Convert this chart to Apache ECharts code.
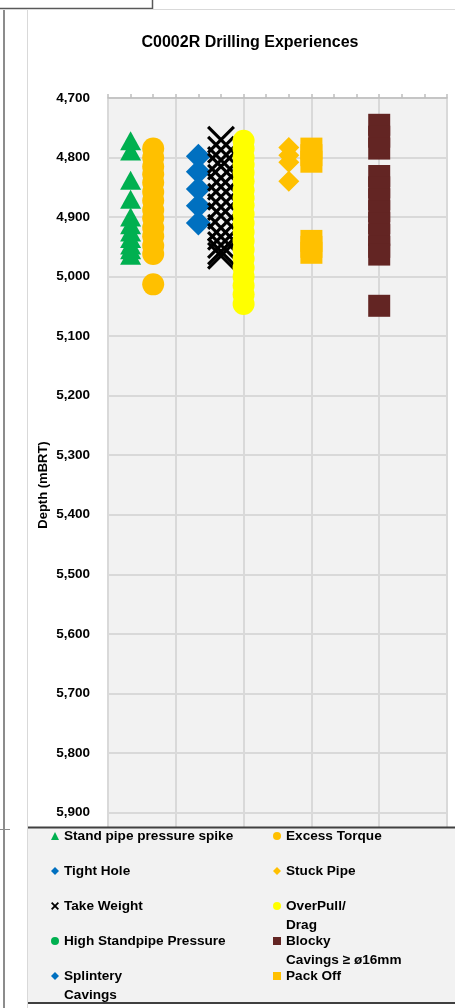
<!DOCTYPE html>
<html>
<head>
<meta charset="utf-8">
<script src="https://cdn.jsdelivr.net/npm/echarts@6/dist/echarts.min.js"></script>
<style>
  html, body { margin: 0; padding: 0; background: #ffffff; }
  #chart { width: 455px; height: 1008px; }
</style>
</head>
<body>
<div id="chart"></div>
<script>
// ---- Data (depths in mBRT) ----
const seriesNames = [
  'Stand pipe pressure spike', 'Excess Torque', 'Tight Hole', 'Stuck Pipe',
  'Take Weight', 'OverPull/\nDrag', 'High Standpipe Pressure',
  'Blocky\nCavings ≥ ø16mm', 'Splintery\nCavings', 'Pack Off'
];
// horizontal slot (x value) of each series
const seriesSlots = [1, 2, 4, 8, 5, 6, 3, 12, 4, 9];

const standPipeSpike = [4772, 4789, 4838, 4870, 4900, 4913, 4925, 4936, 4947, 4955, 4964];
const excessTorque = [4785, 4800, 4815, 4828, 4842, 4858, 4872, 4888, 4902, 4918, 4932, 4948, 4962, 5013];
const tightHole = [4798, 4824, 4853, 4881, 4910];
const stuckPipe = [4783, 4796, 4808, 4840];
const takeWeight = [4770, 4787, 4804, 4815, 4834, 4849, 4866, 4883, 4898, 4918, 4933, 4947, 4958, 4965];
const overPullDrag = [4772, 4785, 4800, 4812, 4825, 4840, 4855, 4868, 4880, 4895, 4910, 4925, 4940, 4955, 4970, 4985, 5000, 5015, 5030, 5046];
const highStandpipePressure = [];
const blockyCavings = [4745, 4765, 4785, 4831, 4850, 4870, 4890, 4910, 4930, 4950, 4963, 5049];
const splinteryCavings = [];
const packOff = [4785, 4796, 4807, 4940, 4950, 4960];

const depthAxis = [4700, 6000, 100]; // min, max, step
const slotAxis = [0, 15, 3];         // min, max, step

const seriesDepths = [standPipeSpike, excessTorque, tightHole, stuckPipe, takeWeight,
  overPullDrag, highStandpipePressure, blockyCavings, splinteryCavings, packOff];

// ---- Styles ----
const FONT = "'Liberation Sans', Arial, sans-serif";
const crossPath = 'path://M0,8L8,0L100,92L92,100ZM92,0L100,8L8,100L0,92Z';
const crossIcon = 'path://M0,16L16,0L100,84L84,100ZM84,0L100,16L16,100L0,84Z';
const styles = [
  { symbol: 'triangle', size: [21, 19], color: '#00b050' },
  { symbol: 'circle', size: 22, color: '#ffc000' },
  { symbol: 'diamond', size: 25, color: '#0070c0' },
  { symbol: 'diamond', size: 21, color: '#ffc000' },
  { symbol: crossPath, size: 28, color: '#000000' },
  { symbol: 'circle', size: 22, color: '#ffff00' },
  { symbol: 'circle', size: 20, color: '#00b050' },
  { symbol: 'rect', size: 22, color: '#632523' },
  { symbol: 'diamond', size: 20, color: '#0070c0' },
  { symbol: 'rect', size: 22, color: '#ffc000' }
];

const series = seriesNames.map((name, i) => ({
  name: name,
  type: 'scatter',
  symbol: styles[i].symbol,
  symbolSize: styles[i].size,
  itemStyle: { color: styles[i].color, opacity: 1 },
  z: 2,
  data: seriesDepths[i].map(d => [seriesSlots[i], d])
}));

// legend layout: two columns, rows 35 px apart
const col1 = [0, 2, 4, 6, 8], col2 = [1, 3, 5, 7, 9];
const col1W = 194, col2W = 160;
const legendTop = 826, rowStep = 35, firstRowY = 835;
const col1TextX = 64, col2TextX = 286;
const legendData = [];
col1.forEach(i => legendData.push(Object.assign({ name: seriesNames[i], textStyle: { width: col1W } },
  i === 4 ? { icon: crossIcon } : {})));
legendData.push('');
col2.forEach(i => legendData.push({ name: seriesNames[i], textStyle: { width: col2W } }));

const legendFont = { fontFamily: FONT, fontSize: 13.6, fontWeight: 'bold', color: '#000' };
const secondLines = [];
[[col1, col1TextX], [col2, col2TextX]].forEach(([col, tx]) => {
  col.forEach((i, row) => {
    const parts = seriesNames[i].split('\n');
    if (parts.length > 1) {
      secondLines.push({
        type: 'text', z: 5,
        style: {
          text: parts[1], x: tx, y: firstRowY + row * rowStep + 20,
          fill: '#000', font: 'bold 13.6px ' + FONT,
          textAlign: 'left', verticalAlign: 'middle', textVerticalAlign: 'middle'
        }
      });
    }
  });
});

const gridLine = { color: '#d9d9d9', width: 2 };
const axisGray = { color: '#bfbfbf', width: 1.5 };

const option = {
  animation: false,
  backgroundColor: '#ffffff',
  textStyle: { fontFamily: FONT },
  title: {
    text: 'C0002R Drilling Experiences',
    left: 250, top: 35, padding: 0,
    textAlign: 'center',
    textStyle: { fontFamily: FONT, fontSize: 16, fontWeight: 'bold', color: '#000' }
  },
  grid: {
    left: 108, right: 8, top: 98, bottom: 136,
    show: true, backgroundColor: '#f2f2f2', borderWidth: 0
  },
  xAxis: {
    type: 'value', position: 'top',
    min: slotAxis[0], max: slotAxis[1], interval: slotAxis[2],
    axisLine: { show: true, onZero: false, lineStyle: axisGray },
    axisTick: { show: true, length: 4, lineStyle: axisGray },
    minorTick: { show: true, splitNumber: 3, length: 4, lineStyle: axisGray },
    axisLabel: { show: false },
    splitLine: { show: true, lineStyle: gridLine }
  },
  yAxis: {
    type: 'value', inverse: true,
    min: depthAxis[0], max: depthAxis[1], interval: depthAxis[2],
    name: 'Depth (mBRT)', nameLocation: 'middle', nameRotate: 90, nameGap: 58,
    nameMoveOverlap: false,
    nameTextStyle: { fontFamily: FONT, fontSize: 13, fontWeight: 'bold', color: '#000' },
    axisLine: { show: false },
    axisTick: { show: false },
    axisLabel: {
      margin: 18, fontFamily: FONT, fontSize: 13.5, fontWeight: 'bold', color: '#000',
      formatter: v => v.toLocaleString('en-US')
    },
    splitLine: { show: true, lineStyle: gridLine }
  },
  legend: {
    orient: 'vertical',
    left: 51, top: legendTop, padding: 0,
    itemWidth: 8, itemHeight: 8, itemGap: rowStep - 20,
    selectedMode: false,
    z: 4,
    formatter: name => name.split('\n')[0],
    textStyle: Object.assign({ lineHeight: 20, height: 20 }, legendFont),
    data: legendData
  },
  graphic: {
    elements: [
      { type: 'line', z: 5, shape: { x1: 0, y1: 8.5, x2: 152, y2: 8.5 }, style: { stroke: '#595959', lineWidth: 1.5 } },
      { type: 'line', z: 5, shape: { x1: 152.5, y1: 0, x2: 152.5, y2: 9 }, style: { stroke: '#595959', lineWidth: 1.5 } },
      { type: 'line', z: 5, shape: { x1: 27, y1: 9.5, x2: 455, y2: 9.5 }, style: { stroke: '#d9d9d9', lineWidth: 1 } },
      { type: 'line', z: 5, shape: { x1: 4, y1: 10, x2: 4, y2: 1008 }, style: { stroke: '#8c8c8c', lineWidth: 2 } },
      { type: 'line', z: 5, shape: { x1: 0, y1: 829.5, x2: 10, y2: 829.5 }, style: { stroke: '#8c8c8c', lineWidth: 1 } },
      { type: 'line', z: 5, shape: { x1: 27.5, y1: 10, x2: 27.5, y2: 1008 }, style: { stroke: '#d9d9d9', lineWidth: 1 } },
      { type: 'rect', z: 3, shape: { x: 28, y: 827, width: 430, height: 176 }, style: { fill: '#f2f2f2' } },
      { type: 'line', z: 3, shape: { x1: 28, y1: 827.5, x2: 455, y2: 827.5 }, style: { stroke: '#404040', lineWidth: 2 } },
      { type: 'line', z: 3, shape: { x1: 28, y1: 1003, x2: 455, y2: 1003 }, style: { stroke: '#404040', lineWidth: 2 } }
    ].concat(secondLines)
  },
  series: series
};

const chart = echarts.init(document.getElementById('chart'), null, { renderer: 'canvas' });
chart.setOption(option);
</script>
</body>
</html>
